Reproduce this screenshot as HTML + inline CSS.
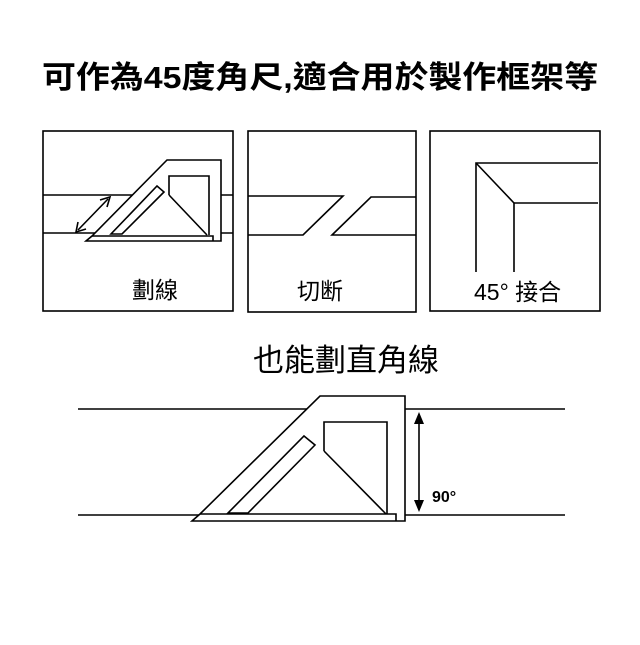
<!DOCTYPE html>
<html><head><meta charset="utf-8"><style>
body{margin:0;background:#fff;}
svg text{font-family:"Liberation Sans","Noto Sans CJK TC",sans-serif;}
</style></head><body>
<svg width="640" height="640" viewBox="0 0 640 640" xmlns="http://www.w3.org/2000/svg">
<rect width="640" height="640" fill="#fff"/>
<text x="320" y="88" font-size="31" font-weight="bold" text-anchor="middle" textLength="556" lengthAdjust="spacingAndGlyphs">可作為45度角尺,適合用於製作框架等</text>
<g fill="none" stroke="#000" stroke-width="1.6">
<rect x="43" y="131" width="190" height="180"/>
<rect x="248" y="131" width="168" height="181"/>
<rect x="430" y="131" width="170" height="180"/>
<!-- panel1 -->
<line x1="43" y1="195" x2="233" y2="195"/>
<line x1="43" y1="233" x2="233" y2="233"/>
<polygon points="167,160 221,160 221,241 86,241 92,236" fill="#fff"/>
<polyline points="92,236 213,236 213,241"/>
<polyline points="169,195 169,176 209,176 209,235"/>
<line x1="169" y1="195" x2="207" y2="235"/>
<polygon points="157,186 164,192 122,234 111,234"/>
<line x1="78" y1="230" x2="108" y2="199"/>
<polyline points="78,222 76,232 86,229"/>
<polyline points="100,200 110,197 107,207"/>
<!-- panel2 -->
<polyline points="248,196 343,196 303,235 248,235"/>
<polyline points="416,197 371,197 332,235 416,235"/>
<!-- panel3 -->
<polyline points="476,272 476,163 598,163"/>
<polyline points="514,272 514,203 598,203"/>
<line x1="476" y1="163" x2="514" y2="203"/>
<!-- bottom -->
<line x1="78" y1="409" x2="565" y2="409"/>
<line x1="78" y1="515" x2="565" y2="515"/>
<polygon points="320,396 405,396 405,521 192,521 200,514" fill="#fff"/>
<polyline points="200,514 396,514 396,521"/>
<polyline points="324,451 324,422 387,422 387,514"/>
<line x1="324" y1="451" x2="386" y2="514"/>
<polygon points="304,436 315,445 248,513 228,513"/>
<line x1="419" y1="416" x2="419" y2="508"/>
</g>
<polygon points="419,412 414,424 424,424" fill="#000"/>
<polygon points="419,512 414,500 424,500" fill="#000"/>
<text x="432" y="502" font-size="16" font-weight="bold">90°</text>
<text x="155" y="298" font-size="23" text-anchor="middle">劃線</text>
<text x="320" y="299" font-size="23" text-anchor="middle">切断</text>
<text x="474" y="300" font-size="23">45° 接合</text>
<text x="346" y="371" font-size="31" text-anchor="middle">也能劃直角線</text>
</svg>
</body></html>
